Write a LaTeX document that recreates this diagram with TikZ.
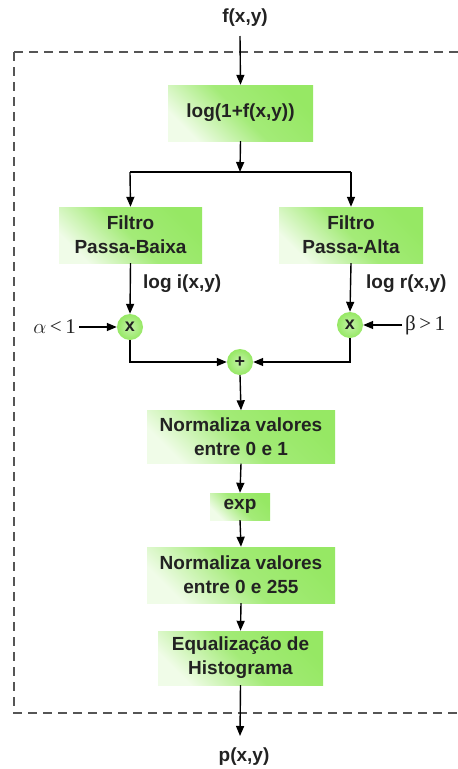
\documentclass[tikz,border=0pt]{standalone}
\usepackage{fontspec}
\setmainfont{Liberation Sans}
\newfontfamily\serifgr{Liberation Serif}
\usetikzlibrary{arrows.meta}
\definecolor{gmain}{RGB}{150,232,100}
\definecolor{glight}{RGB}{240,252,232}
\definecolor{txt}{RGB}{34,34,34}
\definecolor{dashc}{RGB}{85,85,85}
\tikzset{
  gbox/.style={rectangle, inner sep=0pt, align=center, text=txt,
    font=\fontsize{19}{24}\selectfont\bfseries,
    top color=gmain, bottom color=glight, middle color=gmain!85!glight, shading angle=-45},
  opnode/.style={circle, inner sep=0pt, minimum size=26pt, text=txt,
    font=\fontsize{18}{18}\selectfont\bfseries, inner color=gmain!55!white, outer color=gmain},
  lbl/.style={text=txt, font=\fontsize{19}{22}\selectfont\bfseries, inner sep=0pt},
  conn/.style={line width=1.4pt, -{Triangle[length=10pt,width=8pt]}},
  plainline/.style={line width=1.4pt}
}
\begin{document}
\begin{tikzpicture}[x=1pt,y=-1pt]
\clip (0,0) rectangle (458,769);
\fill[white] (0,0) rectangle (458,769);
\draw[dashc, line width=1.8pt, dash pattern=on 9pt off 6pt] (14,52) rectangle (475,713);

\node[lbl] (fin) at (245,18) {f(x,y)};
\node[gbox, minimum width=145pt, minimum height=56pt] (log) at (240.5,113) {log(1+f(x,y))};
\coordinate (split) at (240,172);
\coordinate (sl) at (130,172);
\coordinate (sr) at (351,172);
\node[gbox, minimum width=143pt, minimum height=56pt] (lp) at (130.5,235) {Filtro\\Passa-Baixa};
\node[gbox, minimum width=144pt, minimum height=56pt] (hp) at (351,235) {Filtro\\Passa-Alta};
\node[lbl, anchor=west] (li) at (143,284) {log i(x,y)};
\node[lbl, anchor=west] (lr) at (366,284) {log r(x,y)};
\node[opnode] (ml) at (130,327) {x};
\node[opnode] (mr) at (350,325) {x};
\node[opnode] (pl) at (240,362) {+};
\node[text=txt, font=\serifgr\fontsize{21}{22}\selectfont, anchor=east, inner sep=0pt] (alpha) at (76,327) {$\alpha$\,<\,1};
\node[text=txt, font=\serifgr\fontsize{21}{22}\selectfont, anchor=west, inner sep=0pt] (beta) at (405,325) {β\,>\,1};
\node[gbox, minimum width=188pt, minimum height=53pt] (n1) at (241,437) {Normaliza valores\\entre 0 e 1};
\node[gbox, minimum width=60pt, minimum height=27pt] (ex) at (240,506.5) {exp};
\node[gbox, minimum width=188pt, minimum height=56pt] (n2) at (241,575) {Normaliza valores\\entre 0 e 255};
\node[gbox, minimum width=165pt, minimum height=54pt] (eq) at (240.5,658) {Equalização de\\Histograma};
\node[lbl] (pout) at (244,757) {p(x,y)};

\draw[conn] (240,36) -- (log.north);
\draw[conn] (log.south) -- (split);
\draw[plainline] (sl) -- (sr);
\draw[conn] (sl) -- (lp.north);
\draw[conn] (sr) -- (hp.north);
\draw[conn] (lp.south) -- (ml.north);
\draw[conn] (hp.south) -- (mr.north);
\draw[conn] (alpha.east) ++(3,0) -- (ml.west);
\draw[conn] (beta.west) ++(-3,0) -- (mr.east);
\draw[conn] (ml.south) |- (pl.west);
\draw[conn] (mr.south) |- (pl.east);
\draw[conn] (pl.south) -- (n1.north);
\draw[conn] (n1.south) -- (ex.north);
\draw[conn] (ex.south) -- (n2.north);
\draw[conn] (n2.south) -- (eq.north);
\draw[conn] (eq.south) -- (240,736);
\end{tikzpicture}
\end{document}
